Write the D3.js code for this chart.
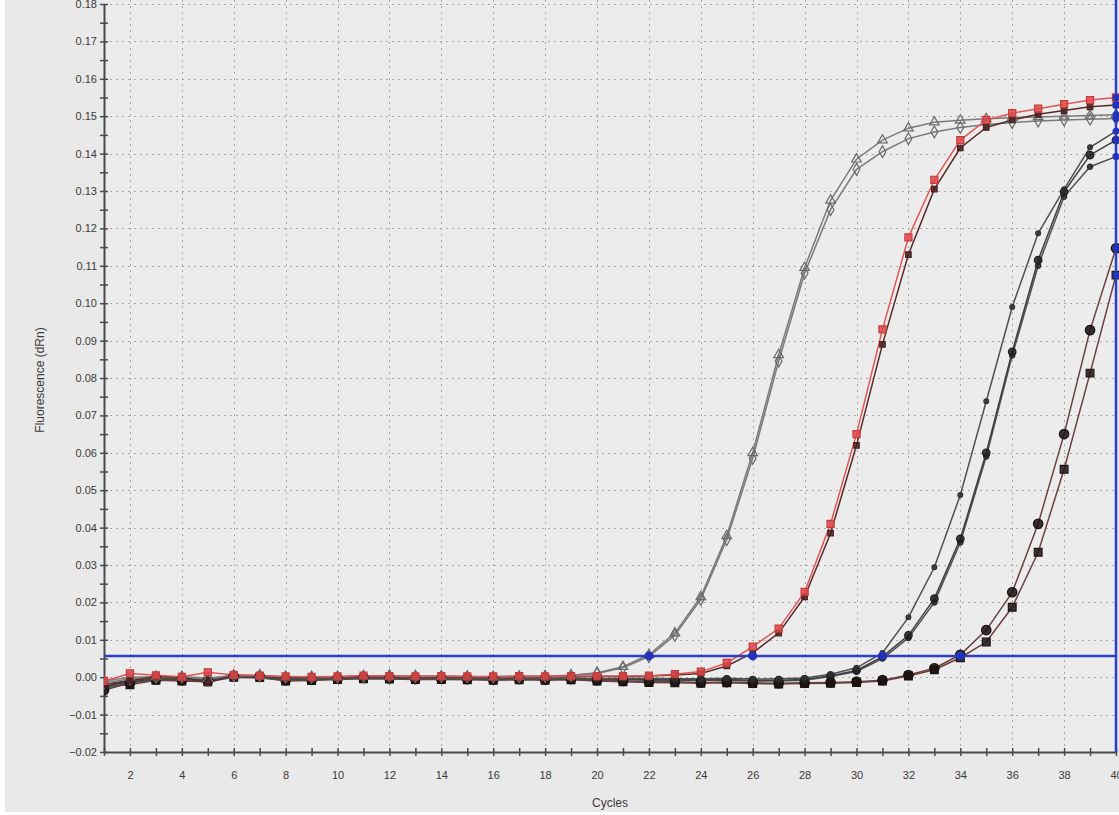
<!DOCTYPE html>
<html>
<head>
<meta charset="utf-8">
<script src="https://cdn.jsdelivr.net/npm/d3@7"></script>
<style>
  body { margin: 0; background: #fff; }
  svg { display: block; font-family: "Liberation Sans", Arial, sans-serif; }
</style>
</head>
<body>
<svg width="1119" height="815"></svg>
<script>
// amplification data, one value per cycle (1..40)
var cycles = d3.range(1, 41);
var yTicks = d3.range(-2, 19).map(function (d) { return d / 100; });
var xTickLabels = d3.range(2, 41, 2);
var threshold = 0.0057;
var ctCycles = [22, 26, 31, 34];

var gray1 = [-0.0010, 0.0000, 0.0001, 0.0000, -0.0004, 0.0005, 0.0005, 0.0000, 0.0001, 0.0001,
              0.0003, 0.0003, 0.0003, 0.0002, 0.0002, 0.0000, 0.0002, 0.0003, 0.0005, 0.0012,
              0.0028, 0.0060, 0.0118, 0.0215, 0.0378, 0.0600, 0.0862, 0.1095, 0.1275, 0.1385,
              0.1436, 0.1468, 0.1484, 0.1489, 0.1493, 0.1496, 0.1498, 0.1500, 0.1502, 0.1504];
var gray2 = [-0.0015, -0.0005, 0.0000, 0.0001, -0.0002, 0.0004, 0.0004, 0.0001, 0.0000, 0.0001,
              0.0002, 0.0004, 0.0002, 0.0002, 0.0001, 0.0001, 0.0001, 0.0002, 0.0004, 0.0010,
              0.0025, 0.0055, 0.0112, 0.0208, 0.0368, 0.0585, 0.0845, 0.1080, 0.1250, 0.1358,
              0.1405, 0.1440, 0.1458, 0.1470, 0.1478, 0.1483, 0.1487, 0.1490, 0.1492, 0.1494];
var red1 = [-0.0010, 0.0010, 0.0005, 0.0001, 0.0013, 0.0006, 0.0004, 0.0002, 0.0001, 0.0002,
             0.0004, 0.0003, 0.0002, 0.0003, 0.0002, 0.0002, 0.0003, 0.0002, 0.0003, 0.0003,
             0.0003, 0.0004, 0.0008, 0.0015, 0.0038, 0.0082, 0.0130, 0.0228, 0.0410, 0.0650,
             0.0930, 0.1176, 0.1330, 0.1436, 0.1490, 0.1508, 0.1520, 0.1532, 0.1543, 0.1550];
var red2 = [-0.0020, -0.0010, 0.0002, 0.0000, -0.0015, 0.0005, 0.0003, 0.0000, 0.0001, 0.0001,
             0.0002, 0.0002, 0.0001, 0.0002, 0.0001, 0.0001, 0.0002, 0.0001, 0.0002, 0.0002,
             0.0002, 0.0003, 0.0006, 0.0010, 0.0030, 0.0065, 0.0118, 0.0215, 0.0385, 0.0620,
             0.0890, 0.1130, 0.1305, 0.1415, 0.1470, 0.1490, 0.1505, 0.1515, 0.1525, 0.1530];
var blackA = [-0.0020, -0.0008, -0.0002, -0.0003, -0.0004, 0.0002, 0.0001, -0.0003, -0.0004, -0.0002,
               0.0000, -0.0001, -0.0002, -0.0001, -0.0002, -0.0003, -0.0002, -0.0003, -0.0002, -0.0004,
              -0.0003, -0.0003, -0.0004, -0.0004, -0.0003, -0.0005, -0.0004, -0.0002, 0.0008, 0.0025,
               0.0065, 0.0160, 0.0294, 0.0487, 0.0738, 0.0990, 0.1187, 0.1305, 0.1417, 0.1460];
var blackB1 = [-0.0025, -0.0012, -0.0004, -0.0005, -0.0006, 0.0001, 0.0000, -0.0005, -0.0005, -0.0003,
               -0.0001, -0.0002, -0.0003, -0.0002, -0.0003, -0.0004, -0.0003, -0.0004, -0.0003, -0.0005,
               -0.0005, -0.0006, -0.0006, -0.0007, -0.0006, -0.0008, -0.0008, -0.0006, 0.0004, 0.0018,
                0.0055, 0.0112, 0.0210, 0.0370, 0.0600, 0.0870, 0.1115, 0.1298, 0.1396, 0.1436];
var blackB2 = [-0.0030, -0.0015, -0.0006, -0.0006, -0.0008, 0.0000, -0.0002, -0.0006, -0.0007, -0.0004,
               -0.0002, -0.0003, -0.0004, -0.0004, -0.0004, -0.0005, -0.0005, -0.0005, -0.0004, -0.0006,
               -0.0007, -0.0008, -0.0009, -0.0008, -0.0008, -0.0010, -0.0010, -0.0008, 0.0002, 0.0015,
                0.0050, 0.0105, 0.0200, 0.0360, 0.0590, 0.0860, 0.1100, 0.1285, 0.1365, 0.1392];
var farC1 = [-0.0035, -0.0015, -0.0006, -0.0008, -0.0010, 0.0002, 0.0001, -0.0008, -0.0007, -0.0004,
              -0.0002, -0.0003, -0.0005, -0.0004, -0.0005, -0.0006, -0.0005, -0.0006, -0.0005, -0.0008,
              -0.0010, -0.0012, -0.0012, -0.0014, -0.0013, -0.0015, -0.0016, -0.0015, -0.0014, -0.0012,
              -0.0008, 0.0006, 0.0024, 0.0060, 0.0126, 0.0227, 0.0410, 0.0650, 0.0928, 0.1147];
var farC2 = [-0.0025, -0.0020, -0.0008, -0.0010, -0.0012, 0.0000, -0.0001, -0.0010, -0.0009, -0.0006,
              -0.0004, -0.0005, -0.0006, -0.0006, -0.0007, -0.0008, -0.0007, -0.0008, -0.0007, -0.0010,
              -0.0012, -0.0014, -0.0015, -0.0016, -0.0015, -0.0017, -0.0018, -0.0017, -0.0016, -0.0014,
              -0.0010, 0.0003, 0.0020, 0.0052, 0.0094, 0.0187, 0.0334, 0.0556, 0.0813, 0.1075];

var series = [
  {values: farC2,   line: "#6a4040", fill: "#1e1414", stroke: "#1e1414", shape: d3.symbolSquare,   size: 60},
  {values: farC1,   line: "#6a4040", fill: "#1a1010", stroke: "#1a1010", shape: d3.symbolCircle,   size: 70},
  {values: blackB2, line: "#505050", fill: "#2a2a2a", stroke: "#2a2a2a", shape: d3.symbolCircle,   size: 22},
  {values: blackB1, line: "#404040", fill: "#202020", stroke: "#202020", shape: d3.symbolCircle,   size: 45},
  {values: blackA,  line: "#505050", fill: "#303030", stroke: "#303030", shape: d3.symbolCircle,   size: 18},
  {values: gray2,   line: "#7a7a7a", fill: "none",    stroke: "#6a6a6a", shape: d3.symbolDiamond,  size: 40},
  {values: gray1,   line: "#7a7a7a", fill: "none",    stroke: "#6a6a6a", shape: d3.symbolTriangle, size: 40},
  {values: red2,    line: "#5a2a2a", fill: "#4a2020", stroke: "#4a2020", shape: d3.symbolSquare,   size: 30},
  {values: red1,    line: "#e05555", fill: "#e04a4a", stroke: "#c83a3a", shape: d3.symbolSquare,   size: 50}
];

var svg = d3.select("svg"),
    width = +svg.attr("width"),
    height = +svg.attr("height");
var plot = {left: 104, right: 1116, top: 0, bottom: 752};

// scales
var xScale = d3.scaleLinear().domain([1, 40]).range([plot.left, plot.right]);
var yScale = d3.scaleLinear().domain([-0.02, 0.18]).range([plot.bottom, 4]);

// background
svg.append("rect").attr("x", 5).attr("y", 0).attr("width", width - 5).attr("height", 812)
    .attr("fill", "#e9e9e9");
svg.append("rect").attr("x", plot.left).attr("y", plot.top)
    .attr("width", plot.right - plot.left).attr("height", plot.bottom - plot.top)
    .attr("fill", "#ececec");

svg.append("defs").append("clipPath").attr("id", "clip")
    .append("rect").attr("x", plot.left).attr("y", plot.top)
    .attr("width", plot.right - plot.left + 6).attr("height", plot.bottom - plot.top);

// grid
var grid = svg.append("g").attr("stroke", "#a8a8a8").attr("stroke-width", 1)
    .attr("stroke-dasharray", "2,4");
grid.selectAll(".hg").data(yTicks.filter(function (d) { return d > -0.02; }))
    .enter().append("line")
    .attr("x1", plot.left).attr("x2", plot.right)
    .attr("y1", function (d) { return Math.round(yScale(d)) + 0.5; })
    .attr("y2", function (d) { return Math.round(yScale(d)) + 0.5; });
grid.selectAll(".vg").data(xTickLabels)
    .enter().append("line")
    .attr("y1", plot.top).attr("y2", plot.bottom)
    .attr("x1", function (d) { return Math.round(xScale(d)) + 0.5; })
    .attr("x2", function (d) { return Math.round(xScale(d)) + 0.5; });

// axes
var yAxis = d3.axisLeft(yScale).tickValues(yTicks).tickFormat(d3.format(".2f"))
    .tickSizeInner(4).tickSizeOuter(0).tickPadding(3);
var gY = svg.append("g").attr("transform", "translate(" + plot.left + ",0)").call(yAxis);
var yAxis2 = d3.axisRight(yScale).tickValues(yTicks.concat(yTicks.map(function (d) { return d + 0.005; })))
    .tickFormat("").tickSizeInner(4).tickSizeOuter(0);
svg.append("g").attr("transform", "translate(" + plot.left + ",0)").call(yAxis2)
    .call(function (g) { g.select(".domain").remove(); });
var yAxis3 = d3.axisLeft(yScale).tickValues(yTicks.map(function (d) { return d + 0.005; }))
    .tickFormat("").tickSizeInner(4).tickSizeOuter(0);
svg.append("g").attr("transform", "translate(" + plot.left + ",0)").call(yAxis3)
    .call(function (g) { g.select(".domain").remove(); });

var xAxis = d3.axisBottom(xScale).tickValues(cycles)
    .tickFormat(function (d) { return d % 2 === 0 ? d : ""; })
    .tickSizeInner(4).tickSizeOuter(0).tickPadding(15);
var gX = svg.append("g").attr("transform", "translate(0," + plot.bottom + ")").call(xAxis);
var xAxis2 = d3.axisTop(xScale).tickValues(cycles).tickFormat("").tickSizeInner(4).tickSizeOuter(0);
svg.append("g").attr("transform", "translate(0," + plot.bottom + ")").call(xAxis2)
    .call(function (g) { g.select(".domain").remove(); });

svg.selectAll(".domain").attr("stroke", "#4a4a4a").attr("stroke-width", 2);
svg.selectAll(".tick line").attr("stroke", "#4a4a4a").attr("stroke-width", 1.5);
svg.selectAll(".tick text").attr("fill", "#3a3a3a").attr("font-size", "11px")
    .attr("font-family", "'Liberation Sans', Arial, sans-serif");

// axis titles
svg.append("text").attr("x", 610).attr("y", 807).attr("text-anchor", "middle")
    .attr("font-size", "12px").attr("fill", "#3a3a3a").text("Cycles");
svg.append("text").attr("transform", "translate(44,380) rotate(-90)")
    .attr("text-anchor", "middle").attr("font-size", "12px").attr("fill", "#3a3a3a")
    .text("Fluorescence (dRn)");

// curves
var curves = svg.append("g").attr("clip-path", "url(#clip)");
var line = d3.line()
    .x(function (d, i) { return xScale(cycles[i]); })
    .y(function (d) { return yScale(d); });

series.forEach(function (s) {
    curves.append("path").datum(s.values)
        .attr("d", line)
        .attr("fill", "none")
        .attr("stroke", s.line)
        .attr("stroke-width", 1.5);
});
series.forEach(function (s) {
    curves.selectAll(null).data(s.values).enter().append("path")
        .attr("transform", function (d, i) {
            return "translate(" + xScale(cycles[i]) + "," + yScale(d) + ")";
        })
        .attr("d", d3.symbol().type(s.shape).size(s.size))
        .attr("fill", s.fill)
        .attr("fill-opacity", s.fill === "none" ? 0 : 0.85)
        .attr("stroke", s.stroke)
        .attr("stroke-width", 1.2);
});

// threshold and cursor lines
curves.append("line")
    .attr("x1", plot.left).attr("x2", plot.right)
    .attr("y1", yScale(threshold)).attr("y2", yScale(threshold))
    .attr("stroke", "#2b3fc0").attr("stroke-width", 2.5);
curves.append("line")
    .attr("x1", plot.right).attr("x2", plot.right)
    .attr("y1", plot.top).attr("y2", plot.bottom)
    .attr("stroke", "#2b3fc0").attr("stroke-width", 2.5);

// Ct markers on the threshold
curves.selectAll(".ct").data(ctCycles).enter().append("circle")
    .attr("cx", function (d) { return xScale(d); })
    .attr("cy", yScale(threshold))
    .attr("r", 4.5)
    .attr("fill", "#2233bb");

// markers where the curves meet the cursor at cycle 40
curves.selectAll(".end").data(series).enter().append("circle")
    .attr("cx", xScale(40))
    .attr("cy", function (d) { return yScale(d.values[d.values.length - 1]); })
    .attr("r", 3.5)
    .attr("fill", "#2233bb");
</script>
</body>
</html>
